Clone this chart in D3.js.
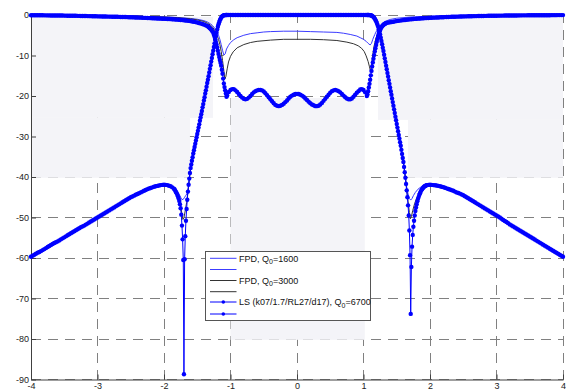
<!DOCTYPE html>
<html><head><meta charset="utf-8">
<script src="https://cdn.jsdelivr.net/npm/d3@7"></script>
<style>
html,body{margin:0;padding:0;background:#fff;}
svg{display:block;}
text{font-family:"Liberation Sans",Arial,Helvetica,sans-serif;}
</style></head><body>
<svg id="chart" width="566" height="390"></svg>
<script>
// Axis ticks
const freqTicks = [-4, -3, -2, -1, 0, 1, 2, 3, 4];
const dbTicks = [0, -10, -20, -30, -40, -50, -60, -70, -80, -90];

// LS filter, transmission |S21| in dB, swept in segments
const lsS21LowStop = [ // -4.000 .. -1.850, step 0.025
  -59.7,-59.45,-59.2,-58.95,-58.7,-58.5,-58.3,-58.05,-57.8,-57.55,
  -57.3,-57.05,-56.8,-56.55,-56.3,-56.1,-55.9,-55.65,-55.4,-55.15,
  -54.9,-54.65,-54.4,-54.15,-53.9,-53.65,-53.4,-53.15,-52.9,-52.65,
  -52.4,-52.2,-52.0,-51.75,-51.5,-51.25,-51.0,-50.75,-50.5,-50.25,
  -50.0,-49.75,-49.5,-49.25,-49.0,-48.75,-48.5,-48.25,-48.0,-47.75,
  -47.5,-47.25,-47.0,-46.75,-46.5,-46.25,-46.0,-45.75,-45.5,-45.25,
  -45.0,-44.8,-44.6,-44.4,-44.2,-44.0,-43.8,-43.6,-43.4,-43.2,
  -43.0,-42.85,-42.7,-42.55,-42.4,-42.3,-42.2,-42.1,-42.0,-41.95,
  -41.9,-41.95,-42.0,-42.15,-42.3,-42.55,-42.9];
const lsS21LowEdge = [ // -1.84 .. -1.06, step 0.01
  -43.1,-43.4,-43.7,-44.0,-44.4,-44.8,-45.3,-45.9,-46.7,-47.7,
  -49.3,-52.0,-55.4,-60.5,-88.7,
  -60.3,-54.6,-50.8,-47.9,-45.6,-43.6,-41.9,-40.4,-39.0,-37.8,
  -36.9,-36.0,-35.1,-34.2,-33.4,-32.6,-31.8,-31.0,-30.2,-29.4,
  -28.6,-27.8,-27.0,-26.1,-25.3,-24.5,-23.7,-22.8,-22.0,-21.1,
  -20.3,-19.4,-18.6,-17.7,-16.8,-16.0,-15.1,-14.2,-13.3,-12.4,
  -11.5,-10.6,-9.7,-8.8,-7.9,-7.0,-6.1,-5.2,-4.4,-3.6,
  -2.9,-2.3,-1.8,-1.3,-0.95,-0.65,-0.4,-0.25,-0.15,-0.08,
  -0.04,-0.02,-0.01,0];
const lsS21Pass = [ // -1.050 .. 1.050, step 0.025
  0,0,0,0,0,0,0,0,0,0, 0,0,0,0,0,0,0,0,0,0,
  0,0,0,0,0,0,0,0,0,0, 0,0,0,0,0,0,0,0,0,0,
  0,0,0,0,0,0,0,0,0,0, 0,0,0,0,0,0,0,0,0,0,
  0,0,0,0,0,0,0,0,0,0, 0,0,0,0,0,0,0,0,0,0,
  0,0,0,0,0];
const lsS21HighEdge = [ // 1.06 .. 1.95, step 0.01
  0,0,-0.01,-0.02,-0.04,-0.08,-0.14,-0.22,-0.33,-0.48,
  -0.68,-0.92,-1.2,-1.55,-1.95,-2.4,-2.9,-3.5,-4.1,-4.8,
  -5.6,-6.4,-7.2,-8.1,-8.9,-9.8,-10.7,-11.6,-12.5,-13.4,
  -14.3,-15.2,-16.1,-17.0,-17.9,-18.8,-19.7,-20.6,-21.5,-22.4,
  -23.3,-24.2,-25.1,-26.0,-26.9,-27.8,-28.7,-29.6,-30.5,-31.4,
  -32.3,-33.3,-34.3,-35.3,-36.3,-37.5,-38.8,-40.2,-41.7,-43.3,
  -45.0,-47.0,-49.5,-53.2,-59.3,-73.8,-62.2,-57.2,-54.3,-52.3,
  -50.8,-49.5,-48.4,-47.5,-46.7,-46.0,-45.4,-44.9,-44.4,-44.0,
  -43.6,-43.3,-43.0,-42.8,-42.6,-42.4,-42.3,-42.2,-42.1,-42.0];
const lsS21HighStop = [ // 1.975 .. 4.000, step 0.025
  -41.95,-41.9,-41.95,-42.0,-42.05,-42.1,-42.2,-42.3,-42.4,-42.5,
  -42.65,-42.8,-42.95,-43.1,-43.25,-43.4,-43.6,-43.8,-43.95,-44.1,
  -44.3,-44.5,-44.75,-45.0,-45.25,-45.5,-45.75,-46.0,-46.25,-46.5,
  -46.75,-47.0,-47.25,-47.5,-47.75,-48.0,-48.25,-48.5,-48.75,-49.0,
  -49.25,-49.5,-49.75,-50.0,-50.3,-50.6,-50.85,-51.1,-51.4,-51.7,
  -51.95,-52.2,-52.45,-52.7,-52.95,-53.2,-53.45,-53.7,-53.95,-54.2,
  -54.45,-54.7,-54.95,-55.2,-55.45,-55.7,-55.95,-56.2,-56.45,-56.7,
  -56.95,-57.2,-57.45,-57.7,-57.95,-58.2,-58.45,-58.7,-58.95,-59.2,
  -59.45,-59.7];

// LS filter, reflection |S11| in dB
const lsS11LowStop = [ // -4.000 .. -1.350, step 0.025
  -0.05,-0.05,-0.06,-0.06,-0.07,-0.07,-0.08,-0.08,-0.09,-0.09,
  -0.10,-0.10,-0.11,-0.11,-0.12,-0.12,-0.13,-0.13,-0.14,-0.14,
  -0.15,-0.16,-0.17,-0.17,-0.18,-0.19,-0.20,-0.20,-0.21,-0.22,
  -0.23,-0.24,-0.25,-0.26,-0.27,-0.28,-0.29,-0.30,-0.31,-0.32,
  -0.33,-0.34,-0.35,-0.36,-0.37,-0.38,-0.39,-0.40,-0.41,-0.42,
  -0.43,-0.44,-0.45,-0.46,-0.48,-0.49,-0.50,-0.51,-0.53,-0.54,
  -0.56,-0.57,-0.59,-0.60,-0.62,-0.64,-0.66,-0.68,-0.70,-0.72,
  -0.74,-0.76,-0.78,-0.80,-0.82,-0.84,-0.86,-0.88,-0.90,-0.92,
  -0.94,-0.96,-0.98,-1.00,-1.03,-1.06,-1.09,-1.12,-1.15,-1.18,
  -1.22,-1.26,-1.30,-1.35,-1.40,-1.46,-1.52,-1.59,-1.66,-1.75,
  -1.85,-1.96,-2.08,-2.22,-2.36,-2.52,-2.70];
const lsS11LowEdge = [ // -1.34 .. -1.06, step 0.01
  -2.80,-2.95,-3.10,-3.25,-3.40,-3.60,-3.80,-4.05,-4.35,-4.85,
  -5.4,-6.0,-6.65,-7.3,-8.0,-8.8,-9.6,-10.4,-11.1,-11.8,
  -12.5,-13.5,-14.5,-15.7,-16.9,-17.8,-18.6,-19.4,-20.2];
const lsS11Pass = [ // -1.050 .. 1.050, step 0.025
  -19.9,-19.0,-18.5,-18.3,-18.3,-18.6,-19.0,-19.5,-20.0,-20.4,
  -20.7,-20.8,-20.7,-20.4,-20.0,-19.5,-19.1,-18.8,-18.6,-18.5,
  -18.5,-18.6,-18.9,-19.3,-19.8,-20.3,-20.8,-21.3,-21.8,-22.2,
  -22.4,-22.5,-22.4,-22.2,-21.9,-21.5,-21.1,-20.6,-20.2,-19.9,
  -19.7,-19.5,
  -19.5,
  -19.5,-19.7,-19.9,-20.2,-20.6,-21.0,-21.4,-21.8,-22.1,-22.3,
  -22.5,-22.5,-22.4,-22.1,-21.7,-21.2,-20.7,-20.2,-19.7,-19.2,
  -18.8,-18.6,-18.5,-18.6,-18.8,-19.1,-19.5,-19.9,-20.3,-20.6,
  -20.8,-20.8,-20.6,-20.2,-19.7,-19.2,-18.8,-18.4,-18.3,-18.5,
  -19.1,-20.0];
const lsS11HighEdge = [ // 1.06 .. 1.34, step 0.01
  -19.6,-18.8,-17.9,-17.0,-16.0,-14.9,-13.8,-12.7,-11.7,-10.8,
  -9.9,-9.0,-8.2,-7.4,-6.6,-5.9,-5.2,-4.6,-4.1,-3.7,
  -3.35,-3.05,-2.8,-2.6,-2.45,-2.3,-2.2,-2.1,-2.0];
const lsS11HighStop = [ // 1.350 .. 4.000, step 0.025
  -1.95,-1.87,-1.80,-1.72,-1.65,-1.57,-1.50,-1.44,-1.38,-1.32,
  -1.27,-1.22,-1.17,-1.12,-1.08,-1.04,-1.00,-0.96,-0.93,-0.90,
  -0.87,-0.84,-0.81,-0.78,-0.76,-0.73,-0.71,-0.68,-0.66,-0.64,
  -0.62,-0.60,-0.58,-0.56,-0.54,-0.52,-0.50,-0.48,-0.47,-0.45,
  -0.44,-0.42,-0.41,-0.39,-0.38,-0.36,-0.35,-0.34,-0.33,-0.32,
  -0.31,-0.30,-0.29,-0.28,-0.27,-0.26,-0.25,-0.24,-0.23,-0.22,
  -0.21,-0.20,-0.20,-0.19,-0.18,-0.17,-0.17,-0.16,-0.16,-0.15,
  -0.15,-0.14,-0.14,-0.13,-0.13,-0.12,-0.12,-0.11,-0.11,-0.10,
  -0.10,-0.09,-0.09,-0.09,-0.09,-0.08,-0.08,-0.07,-0.07,-0.07,
  -0.07,-0.06,-0.06,-0.06,-0.06,-0.05,-0.05,-0.05,-0.05,-0.04,
  -0.04,-0.04,-0.04,-0.03,-0.03,-0.03,-0.03];

// FPD filter, Q0 = 1600: [normalised frequency, dB]
const fpd1600S21 = [
  [-4,-59.7],[-3.5,-54.9],[-3,-50],[-2.5,-45],[-2.2,-42.7],[-2,-41.9],[-1.9,-42.2],
  [-1.85,-42.7],[-1.8,-43.5],[-1.77,-44.3],[-1.75,-45.0],[-1.73,-45.6],[-1.71,-45.5],
  [-1.69,-45.0],[-1.67,-44.5],[-1.65,-44.0],[-1.64,-43.6],[-1.6,-37.8],[-1.5,-29.4],
  [-1.4,-21.1],[-1.3,-12.4],[-1.25,-7.9],[-1.2,-3.6],[-1.17,-1.8],[-1.14,-0.65],
  [-1.1,-0.08],[-1.05,0],[1.05,0],[1.1,-0.04],[1.14,-0.33],[1.18,-1.2],[1.22,-2.9],
  [1.26,-5.6],[1.3,-8.9],[1.4,-17.9],[1.5,-26.9],[1.6,-36.3],[1.63,-40.2],[1.65,-42.5],
  [1.67,-44.2],[1.69,-45.3],[1.71,-45.7],[1.73,-45.3],[1.75,-44.6],[1.78,-43.8],
  [1.82,-43.0],[1.86,-42.5],[1.9,-42.2],[2,-41.9],[2.25,-42.8],[2.5,-44.5],[3,-49.5],
  [3.5,-54.7],[4,-59.7]];
const fpd1600S11 = [
  [-4,-0.05],[-3,-0.2],[-2.5,-0.3],[-2,-0.45],[-1.8,-0.6],[-1.6,-0.85],[-1.5,-1.05],
  [-1.4,-1.4],[-1.35,-1.7],[-1.3,-2.2],[-1.27,-2.6],[-1.24,-3.2],[-1.21,-4.0],
  [-1.18,-5.0],[-1.16,-6.0],[-1.14,-7.3],[-1.12,-8.7],[-1.10,-9.9],[-1.08,-9.6],
  [-1.06,-8.4],[-1.03,-7.5],[-1.0,-6.8],[-0.95,-6.1],[-0.9,-5.6],[-0.8,-5.0],
  [-0.7,-4.6],[-0.6,-4.4],[-0.5,-4.2],[-0.4,-4.1],[-0.2,-4.0],[0,-4.0],[0.2,-4.1],
  [0.4,-4.2],[0.6,-4.3],[0.7,-4.5],[0.8,-4.8],[0.9,-5.2],[0.95,-5.6],[1.0,-6.0],
  [1.04,-6.5],[1.07,-7.0],[1.1,-7.4],[1.12,-7.0],[1.14,-6.0],[1.17,-4.8],[1.2,-3.8],
  [1.24,-2.8],[1.28,-2.1],[1.32,-1.6],[1.4,-1.1],[1.5,-0.8],[1.7,-0.5],[2,-0.3],
  [2.5,-0.2],[3,-0.12],[4,-0.05]];

// FPD filter, Q0 = 3000
const fpd3000S21 = [
  [-4,-59.7],[-3.5,-54.9],[-3,-50],[-2.5,-45],[-2.2,-42.7],[-2,-41.9],[-1.9,-42.2],
  [-1.85,-42.8],[-1.8,-44.0],[-1.77,-45.5],[-1.75,-47.0],[-1.73,-49.2],[-1.715,-50.5],
  [-1.70,-50.0],[-1.68,-48.3],[-1.66,-46.3],[-1.64,-43.6],[-1.6,-37.8],[-1.5,-29.4],
  [-1.4,-21.1],[-1.3,-12.4],[-1.25,-7.9],[-1.2,-3.6],[-1.17,-1.8],[-1.14,-0.65],
  [-1.1,-0.08],[-1.05,0],[1.05,0],[1.1,-0.04],[1.14,-0.33],[1.18,-1.2],[1.22,-2.9],
  [1.26,-5.6],[1.3,-8.9],[1.4,-17.9],[1.5,-26.9],[1.6,-36.3],[1.63,-40.2],[1.65,-43.3],
  [1.67,-46.0],[1.69,-48.8],[1.705,-50.3],[1.72,-49.8],[1.74,-48.3],[1.77,-46.5],
  [1.8,-45.2],[1.85,-43.9],[1.9,-42.8],[2,-41.9],[2.25,-42.8],[2.5,-44.5],[3,-49.5],
  [3.5,-54.7],[4,-59.7]];
const fpd3000S11 = [
  [-4,-0.05],[-3,-0.2],[-2.5,-0.3],[-2,-0.5],[-1.8,-0.65],[-1.6,-0.95],[-1.5,-1.2],
  [-1.4,-1.6],[-1.35,-2.0],[-1.3,-2.5],[-1.27,-3.0],[-1.24,-3.7],[-1.21,-4.7],
  [-1.18,-6.0],[-1.16,-7.3],[-1.14,-9.0],[-1.12,-11.2],[-1.10,-13.8],[-1.085,-15.8],
  [-1.07,-15.2],[-1.05,-13.3],[-1.03,-11.6],[-1.0,-10.2],[-0.96,-9.1],[-0.9,-8.1],
  [-0.8,-7.3],[-0.7,-6.8],[-0.6,-6.5],[-0.4,-6.2],[-0.2,-6.0],[0,-6.0],[0.2,-6.0],
  [0.4,-6.1],[0.6,-6.3],[0.75,-6.7],[0.85,-7.1],[0.92,-7.6],[0.97,-8.2],[1.01,-9.0],
  [1.04,-10.1],[1.07,-11.5],[1.09,-12.8],[1.105,-13.8],[1.12,-12.5],[1.14,-9.8],
  [1.16,-7.6],[1.19,-5.6],[1.22,-4.3],[1.26,-3.2],[1.3,-2.5],[1.35,-2.0],[1.45,-1.4],
  [1.6,-0.95],[1.8,-0.65],[2,-0.5],[2.5,-0.3],[3,-0.2],[4,-0.05]];

// Legend rows: [name, subscript, suffix]
const legendLabels = [
  ["FPD, Q", "0", "=1600"],
  ["FPD, Q", "0", "=3000"],
  ["LS (k07/1.7/RL27/d17), Q", "0", "=6700"]
];

// Light backdrop regions behind the traces: [f0, f1, dbTop, dbBottom, fill]
const backdrop = [
  [-4, -1.263, -0.5, -25.4, "#f4f4f8"],
  [-4, -1.61, -25.4, -40.2, "#f4f4f8"],
  [1.218, 4, -0.5, -25.9, "#f4f4f8"],
  [1.67, 4, -25.9, -40.2, "#f4f4f8"],
  [-1.1, 1.12, -6.6, -19.8, "#ffffff"],
  [-1.0, 1.02, -20.5, -80.2, "#f4f4f8"]
];

// Turn a stepped sweep into [frequency, dB] points
function sweep(start, step, values) {
  return values.map((v, i) => [+(start + i * step).toFixed(4), v]);
}

const lsS21 = [].concat(
  sweep(-4.00, 0.025, lsS21LowStop),
  sweep(-1.84, 0.01, lsS21LowEdge),
  sweep(-1.05, 0.025, lsS21Pass),
  sweep(1.06, 0.01, lsS21HighEdge),
  sweep(1.975, 0.025, lsS21HighStop));
const lsS11 = [].concat(
  sweep(-4.00, 0.025, lsS11LowStop),
  sweep(-1.34, 0.01, lsS11LowEdge),
  sweep(-1.05, 0.025, lsS11Pass),
  sweep(1.06, 0.01, lsS11HighEdge),
  sweep(1.35, 0.025, lsS11HighStop));

const svg = d3.select("#chart");
const x = d3.scaleLinear().domain([-4, 4]).range([31, 563]);
const y = d3.scaleLinear().domain([-90, 0]).range([379.5, 15]);

const BLUE = "#0000ff", FPD_BLUE = "#3c3cff", FPD_BLACK = "#333333";
const GRID = "#808080";

// grid
const grid = svg.append("g").attr("stroke", GRID).attr("stroke-width", 1)
  .attr("stroke-dasharray", "10,7").attr("shape-rendering", "crispEdges");
grid.selectAll("line.h").data(dbTicks).join("line").attr("class", "h")
  .attr("x1", x(-4)).attr("x2", x(4)).attr("y1", d => y(d)).attr("y2", d => y(d));
grid.selectAll("line.v").data(freqTicks).join("line").attr("class", "v")
  .attr("x1", d => x(d)).attr("x2", d => x(d)).attr("y1", y(-90)).attr("y2", y(0));

// backdrop regions
svg.append("g").selectAll("rect").data(backdrop).join("rect")
  .attr("x", d => x(d[0])).attr("width", d => x(d[1]) - x(d[0]))
  .attr("y", d => y(d[2])).attr("height", d => y(d[3]) - y(d[2]))
  .attr("fill", d => d[4]);

// axes
const yAxis = d3.axisLeft(y).tickValues(dbTicks).tickFormat(d => String(d))
  .tickSizeInner(-5).tickSizeOuter(0).tickPadding(2);
const xAxis = d3.axisBottom(x).tickValues(freqTicks).tickFormat(d => String(d))
  .tickSizeInner(-5).tickSizeOuter(0).tickPadding(3.5);
const gy = svg.append("g").attr("transform", `translate(${x(-4)},0)`).call(yAxis);
const gx = svg.append("g").attr("transform", `translate(0,${y(-90)})`).call(xAxis);
[gx, gy].forEach(g => {
  g.select(".domain").attr("stroke", "#404040");
  g.selectAll(".tick line").attr("stroke", "#404040");
  g.selectAll(".tick text").attr("fill", "#222").style("font-size", "9px")
    .style("font-family", '"Liberation Sans", Arial, sans-serif');
});

const line = d3.line().x(d => x(d[0])).y(d => y(d[1]));
const plot = svg.append("g");

// FPD traces
[[fpd1600S21, FPD_BLUE], [fpd1600S11, FPD_BLUE], [fpd3000S21, FPD_BLACK], [fpd3000S11, FPD_BLACK]]
  .forEach(([data, col]) => {
    plot.append("path").datum(data).attr("d", line)
      .attr("fill", "none").attr("stroke", col).attr("stroke-width", 1);
  });

// LS traces: thin line with dot markers
[lsS21, lsS11].forEach(data => {
  plot.append("path").datum(data).attr("d", line)
    .attr("fill", "none").attr("stroke", BLUE).attr("stroke-width", 1);
  plot.append("g").selectAll("circle").data(data).join("circle")
    .attr("cx", d => x(d[0])).attr("cy", d => y(d[1])).attr("r", 2.2)
    .attr("fill", BLUE);
});

// legend
const lg = svg.append("g").attr("transform", "translate(205,251)");
lg.append("rect").attr("x", 0.5).attr("y", 0.5).attr("width", 165).attr("height", 69)
  .attr("fill", "#fff").attr("stroke", "#555").attr("stroke-width", 1);
const rowY = [7.3, 18.5, 29.5, 40.7, 51, 63];
const rowCol = [FPD_BLUE, FPD_BLUE, FPD_BLACK, FPD_BLACK, BLUE, BLUE];
rowY.forEach((ry, i) => {
  lg.append("line").attr("x1", 5).attr("x2", 31.5).attr("y1", ry).attr("y2", ry)
    .attr("stroke", rowCol[i]).attr("stroke-width", 1);
  if (i >= 4) lg.append("circle").attr("cx", 18.3).attr("cy", ry).attr("r", 1.8).attr("fill", BLUE);
});
legendLabels.forEach((lab, i) => {
  const t = lg.append("text").attr("x", 34).attr("y", rowY[i * 2] + 3.2)
    .style("font-size", "9px").attr("fill", "#111");
  t.append("tspan").text(lab[0]);
  t.append("tspan").attr("dy", 2.6).style("font-size", "7px").text(lab[1]);
  t.append("tspan").attr("dy", -2.6).text(lab[2]);
});
</script>
</body></html>
